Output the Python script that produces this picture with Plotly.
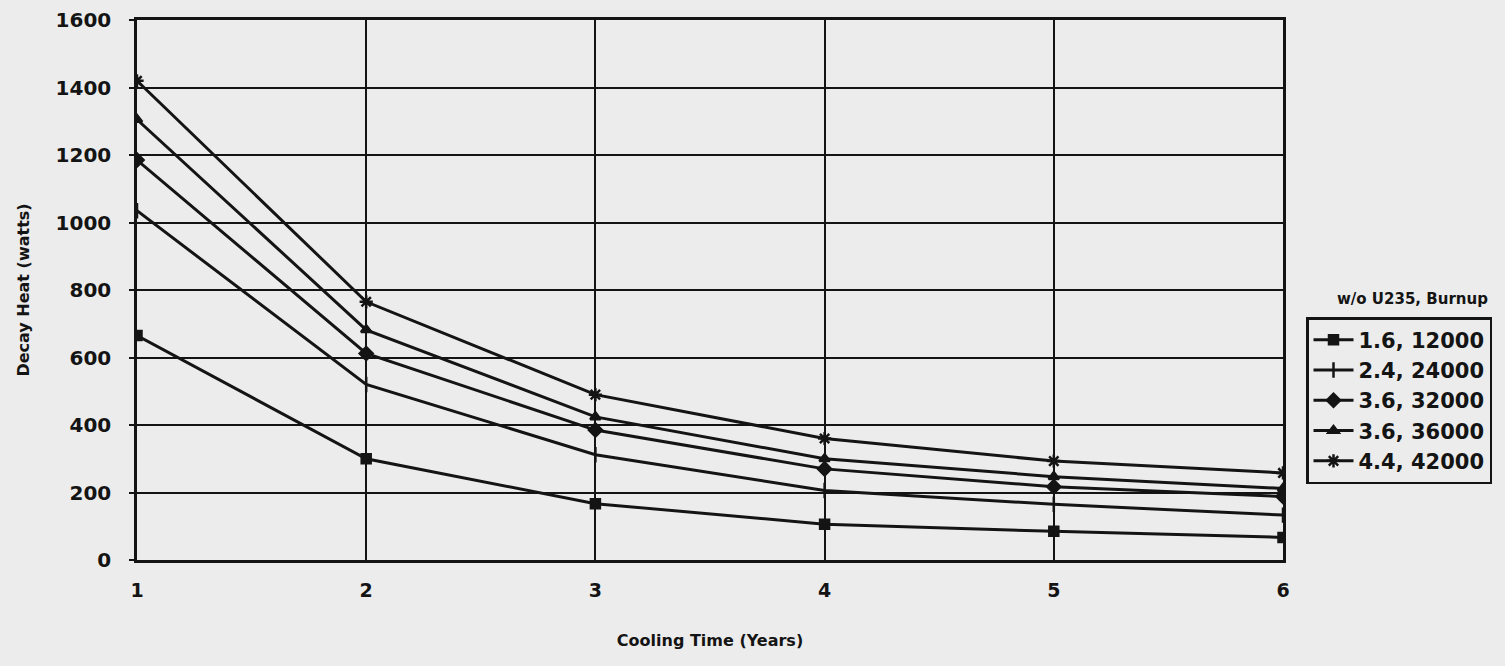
import plotly.graph_objects as go

years = [1, 2, 3, 4, 5, 6]
series_names = ["1.6, 12000", "2.4, 24000", "3.6, 32000", "3.6, 36000", "4.4, 42000"]
s_16_12000 = [665, 300, 167, 106, 85, 67]
s_24_24000 = [1035, 520, 312, 206, 165, 133]
s_36_32000 = [1185, 612, 385, 270, 217, 188]
s_36_36000 = [1305, 682, 424, 300, 247, 212]
s_44_42000 = [1420, 765, 490, 360, 293, 258]
y_ticks = [0, 200, 400, 600, 800, 1000, 1200, 1400, 1600]

all_series = [s_16_12000, s_24_24000, s_36_32000, s_36_36000, s_44_42000]
symbols = ["square", "line-ns-open", "diamond", "triangle-up", "asterisk-open"]
sizes = [9, 11, 10, 9, 11]

FONT = "DejaVu Sans, Liberation Sans, Arial, sans-serif"
BG = "#ececec"
INK = "#141414"

fig = go.Figure()
for i, (name, vals, sym, sz) in enumerate(zip(series_names, all_series, symbols, sizes)):
    fig.add_trace(go.Scatter(
        x=years, y=vals, name=name, mode="lines+markers",
        legendgroup=f"g{i}",
        line=dict(color=INK, width=3),
        marker=dict(symbol=sym, size=sz, color=INK,
                    line=dict(color=INK, width=2.5)),
    ))

fig.update_layout(
    width=1505, height=666,
    paper_bgcolor=BG, plot_bgcolor=BG,
    margin=dict(l=137, r=222, t=20, b=106, autoexpand=False),
    font=dict(family=FONT, size=18, color=INK, weight=700),
    showlegend=True,
    legend=dict(
        x=(1306 - 137) / 1146, xanchor="left", y=(560 - 317) / 540, yanchor="top",
        bordercolor=INK, borderwidth=2.5, bgcolor=BG,
        font=dict(family=FONT, size=21, color=INK, weight=700),
        itemwidth=40, tracegroupgap=0,
    ),
    annotations=[dict(
        text="w/o U235, Burnup", xref="paper", yref="paper",
        x=(1412 - 137) / 1146, y=(560 - 299) / 540, xanchor="center", yanchor="middle",
        showarrow=False, font=dict(family=FONT, size=15, color=INK, weight=700),
    )],
)

fig.update_xaxes(
    range=[1, 6], tickvals=years, ticktext=[str(v) for v in years],
    showgrid=True, gridcolor=INK, gridwidth=2,
    showline=True, linecolor=INK, linewidth=2.5, mirror=True,
    ticks="", ticklabelstandoff=11, zeroline=False,
    tickfont=dict(family=FONT, size=19, weight=700),
    title=dict(text="Cooling Time (Years)", standoff=36,
               font=dict(family=FONT, size=16, weight=700)),
)
fig.update_yaxes(
    range=[0, 1600], tickvals=y_ticks,
    showgrid=True, gridcolor=INK, gridwidth=1.5,
    showline=True, linecolor=INK, linewidth=2.5, mirror=True,
    ticks="outside", ticklen=5, tickcolor=INK, tickwidth=1.5,
    ticklabelstandoff=14, zeroline=False,
    tickfont=dict(family=FONT, size=20, weight=700),
    title=dict(text="Decay Heat (watts)", standoff=22,
               font=dict(family=FONT, size=16, weight=700)),
)

fig.write_html(
    "out.html",
    config={"displayModeBar": False},
    post_script="document.body.style.margin='0';document.body.style.background='#ececec';",
)
